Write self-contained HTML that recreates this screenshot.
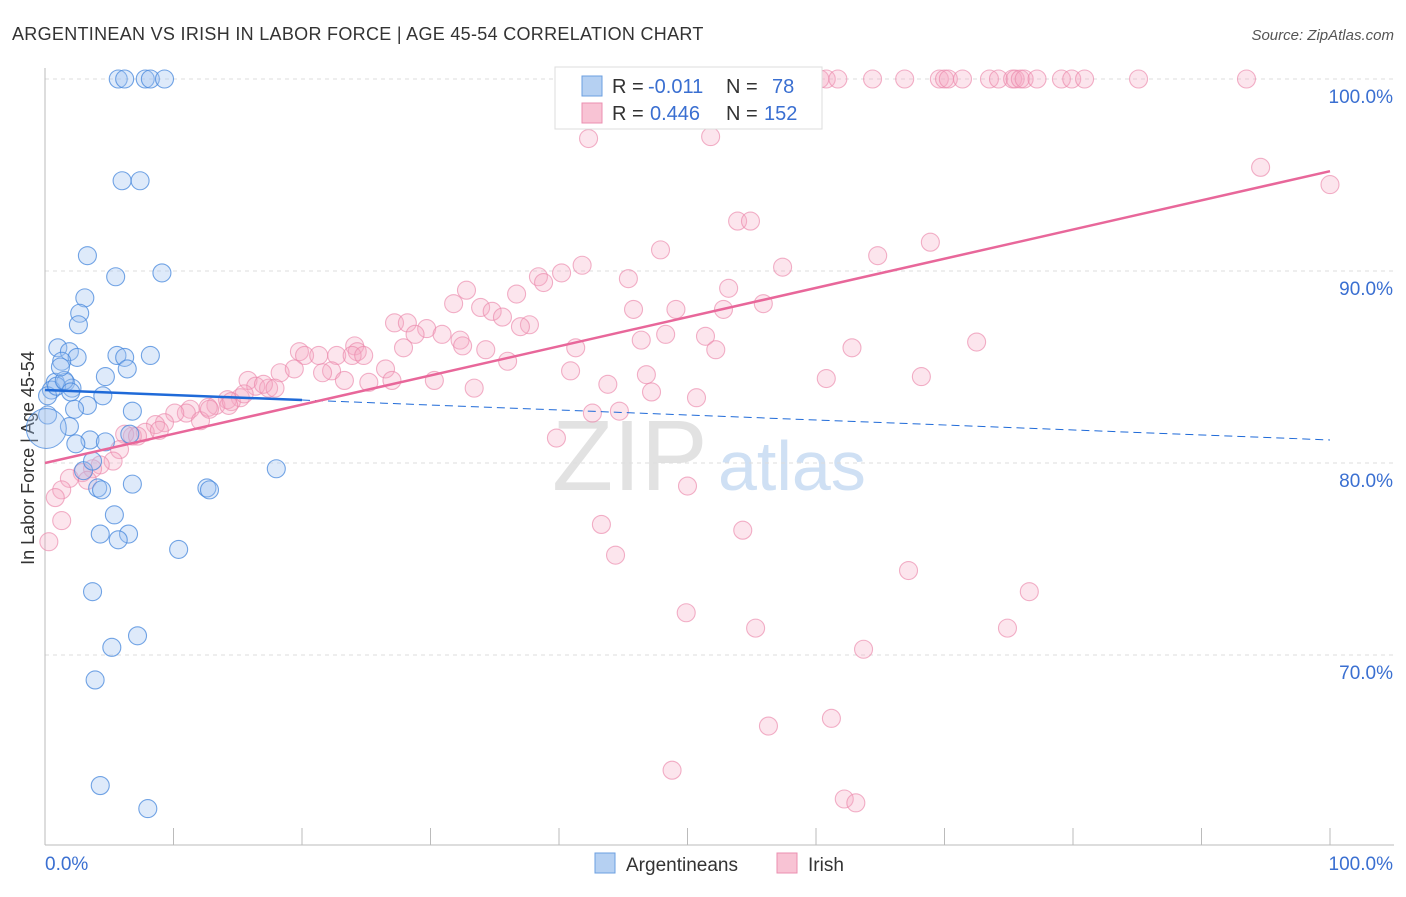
<!DOCTYPE html>
<html><head><meta charset="utf-8"><style>
body{margin:0;background:#fff;font-family:"Liberation Sans",sans-serif}
svg text{font-family:"Liberation Sans",sans-serif}
</style></head><body>
<svg id="chart" width="1406" height="892">
<text x="12" y="40" font-size="18" fill="#333" letter-spacing="0.3">ARGENTINEAN VS IRISH IN LABOR FORCE | AGE 45-54 CORRELATION CHART</text>
<text x="1394" y="40" font-size="15" fill="#555" font-style="italic" text-anchor="end">Source: ZipAtlas.com</text>
<text x="34" y="458" font-size="18" fill="#333" text-anchor="middle" transform="rotate(-90 34 458)">In Labor Force | Age 45-54</text>
<text x="552" y="490" font-size="100" fill="#e2e2e2" font-family="Liberation Serif">ZIP</text>
<text x="718" y="490" font-size="70" fill="#cfe0f4">atlas</text>
<g id="grid"></g><g id="pts"></g><g id="lines"></g>
<g>
<rect x="555" y="67" width="267" height="62" fill="#fff" stroke="#ddd"/>
<rect x="582" y="76" width="20" height="20" fill="#b5d0f2" stroke="#6b9fe0"/>
<rect x="582" y="103" width="20" height="20" fill="#f8c3d4" stroke="#eb8fb0"/>
<text y="93" font-size="20" fill="#333"><tspan x="612">R =</tspan><tspan x="648" fill="#3a6fd1">-0.011</tspan><tspan x="726">N =</tspan><tspan x="772" fill="#3a6fd1">78</tspan></text>
<text y="120" font-size="20" fill="#333"><tspan x="612">R =</tspan><tspan x="650" fill="#3a6fd1">0.446</tspan><tspan x="726">N =</tspan><tspan x="764" fill="#3a6fd1">152</tspan></text>
</g>
<g>
<rect x="595" y="853" width="20" height="20" fill="#b5d0f2" stroke="#6b9fe0"/>
<text x="626" y="871" font-size="19" fill="#333">Argentineans</text>
<rect x="777" y="853" width="20" height="20" fill="#f8c3d4" stroke="#eb8fb0"/>
<text x="808" y="871" font-size="19" fill="#333">Irish</text>
</g>
</svg>
<script>
const yTicks=[100,90,80,70];
const xTickLabels=["0.0%","100.0%"];
const blueX=[5.7,6.2,7.8,8.2,9.3,6.0,7.4,3.3,5.5,9.1,3.1,2.7,2.6,1.0,1.9,2.5,1.3,5.6,6.2,8.2,6.4,4.7,0.8,1.6,0.5,2.1,0.2,4.5,3.3,2.3,6.8,0.2,1.9,3.5,4.7,2.4,6.6,3.0,3.7,18.0,4.1,4.4,6.8,12.6,12.8,5.4,4.3,6.5,5.7,10.4,3.7,7.2,5.2,3.9,4.3,8.0,0.9,1.5,2.0,1.2];
const blueY=[100,100,100,100,100,94.7,94.7,90.8,89.7,89.9,88.6,87.8,87.2,86.0,85.8,85.5,85.3,85.6,85.5,85.6,84.9,84.5,84.2,84.2,83.8,83.9,83.5,83.5,83.0,82.8,82.7,82.5,81.9,81.2,81.1,81.0,81.5,79.6,80.1,79.7,78.7,78.6,78.9,78.7,78.6,77.3,76.3,76.3,76.0,75.5,73.3,71.0,70.4,68.7,63.2,62.0,84.0,84.3,83.7,85.0];
const pinkX=[58.8,59.4,60.3,60.8,61.7,64.4,66.9,69.6,70.0,70.3,71.4,73.5,74.2,75.3,75.5,75.9,76.2,77.2,79.1,79.9,80.9,85.1,93.5,59.7,42.3,51.8,94.6,100,53.9,54.9,47.9,68.9,64.8,38.4,40.2,38.8,41.8,57.4,45.4,36.7,32.8,31.8,33.9,34.8,35.6,37.7,27.2,28.2,29.7,30.9,32.3,32.5,34.3,37.0,53.2,45.8,49.1,55.9,52.8,51.4,48.3,46.4,52.2,41.3,36.0,28.8,27.9,24.1,24.3,19.8,20.2,21.3,22.7,23.9,24.8,26.5,22.3,21.6,18.3,19.4,23.3,25.2,27.0,30.3,33.4,40.9,43.8,46.8,47.2,50.7,62.8,72.5,68.2,60.8,44.7,42.6,39.8,15.8,16.4,17.4,17.0,15.2,14.2,13.3,12.7,11.3,11.0,12.1,10.1,9.3,8.6,7.8,6.8,6.2,8.9,7.2,5.8,5.3,4.3,3.7,2.9,1.9,1.3,0.8,1.3,0.3,3.3,50.0,43.3,44.4,54.3,67.2,76.6,49.9,55.3,74.9,63.7,56.3,61.2,48.8,62.2,63.1,12.8,14.5,15.5,17.9,14.3];
const pinkY=[100,100,100,100,100,100,100,100,100,100,100,100,100,100,100,100,100,100,100,100,100,100,100,98.8,96.9,97.0,95.4,94.5,92.6,92.6,91.1,91.5,90.8,89.7,89.9,89.4,90.3,90.2,89.6,88.8,89.0,88.3,88.1,87.9,87.6,87.2,87.3,87.3,87.0,86.7,86.4,86.1,85.9,87.1,89.1,88.0,88.0,88.3,88.0,86.6,86.7,86.4,85.9,86.0,85.3,86.7,86.0,86.1,85.8,85.8,85.6,85.6,85.6,85.6,85.6,84.9,84.8,84.7,84.7,84.9,84.3,84.2,84.3,84.3,83.9,84.8,84.1,84.6,83.7,83.4,86.0,86.3,84.5,84.4,82.7,82.6,81.3,84.3,84.0,83.9,84.1,83.4,83.3,83.0,82.9,82.8,82.6,82.2,82.6,82.1,82.0,81.6,81.4,81.5,81.7,81.4,80.7,80.1,79.9,79.7,79.5,79.2,78.6,78.2,77.0,75.9,79.1,78.8,76.8,75.2,76.5,74.4,73.3,72.2,71.4,71.4,70.3,66.3,66.7,64.0,62.5,62.3,82.8,83.2,83.6,83.9,83.0];
const blueTrend=[83.8,81.2];
const pinkTrend=[80.0,95.2];
const X=v=>45+v*12.85, Y=v=>79+(100-v)*19.2;
const NS="http://www.w3.org/2000/svg";
function mk(t,a,p){const e=document.createElementNS(NS,t);for(const k in a)e.setAttribute(k,a[k]);p.appendChild(e);return e;}
const grid=document.getElementById('grid'),pts=document.getElementById('pts'),lines=document.getElementById('lines');
yTicks.forEach(v=>{
const l=mk('line',{x1:45,x2:1394,y1:Y(v),y2:Y(v),stroke:'#ddd','stroke-dasharray':'4 4'},grid);


const t=mk('text',{x:1393,y:Y(v)+24,'font-size':19,fill:'#3a6fd1','text-anchor':'end'},grid);t.textContent=v.toFixed(1)+'%';


});
mk('line',{x1:45,x2:45,y1:68,y2:845,stroke:'#bbb'},grid);
mk('line',{x1:45,x2:1394,y1:845,y2:845,stroke:'#bbb'},grid);
for(let i=0;i<=10;i++){const tk=mk('line',{x1:X(i*10),x2:X(i*10),y1:828,y2:845,stroke:'#bbb'},grid);

}
const t0=mk('text',{x:45,y:870,'font-size':19,fill:'#3a6fd1'},grid);t0.textContent=xTickLabels[0];


const t1=mk('text',{x:1393,y:870,'font-size':19,fill:'#3a6fd1','text-anchor':'end'},grid);t1.textContent=xTickLabels[1];


pinkX.forEach((x,i)=>{const c=mk('circle',{cx:X(x),cy:Y(pinkY[i]),r:9,fill:'rgba(246,170,196,0.3)',stroke:'rgba(235,135,170,0.65)','stroke-width':1.1},pts);

});
blueX.forEach((x,i)=>{const c=mk('circle',{cx:X(x),cy:Y(blueY[i]),r:9,fill:'rgba(160,196,240,0.35)',stroke:'rgba(70,135,220,0.75)','stroke-width':1.1},pts);

});
const big=mk('circle',{cx:X(0.1),cy:Y(81.8),r:20,fill:'rgba(160,196,240,0.35)',stroke:'rgba(70,135,220,0.75)'},pts);


const bs=blueTrend[0]+(blueTrend[1]-blueTrend[0])*0.2;
const bl=mk('line',{x1:X(0),y1:Y(blueTrend[0]),x2:X(20),y2:Y(bs),stroke:'#1f6ad8','stroke-width':2.5},lines);


const bd=mk('line',{x1:X(20),y1:Y(bs),x2:X(100),y2:Y(blueTrend[1]),stroke:'#1f6ad8','stroke-width':1,'stroke-dasharray':'8 5'},lines);


const pl=mk('line',{x1:X(0),y1:Y(pinkTrend[0]),x2:X(100),y2:Y(pinkTrend[1]),stroke:'#e8679a','stroke-width':2.5},lines);


</script>
</body></html>
